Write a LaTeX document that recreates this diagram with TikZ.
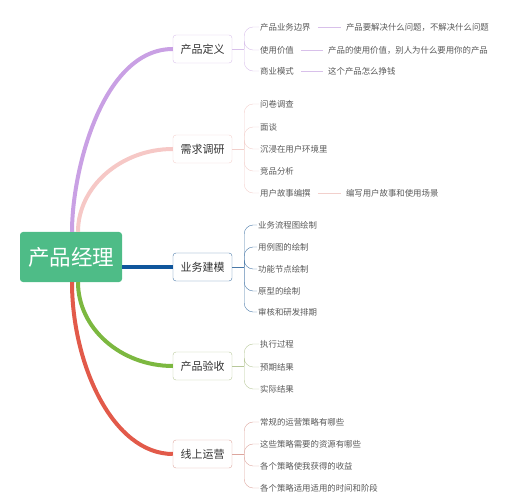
\documentclass[tikz,border=0pt]{standalone}
\usepackage{fontspec}
\setmainfont{Noto Sans CJK SC}
\usetikzlibrary{positioning}

\definecolor{rootgreen}{RGB}{78,188,135}
\definecolor{cpurple}{RGB}{201,160,228}
\definecolor{cpink}{RGB}{246,200,198}
\definecolor{cblue}{RGB}{16,86,156}
\definecolor{cgreen}{RGB}{124,184,64}
\definecolor{cred}{RGB}{226,90,74}
\definecolor{lpurple}{RGB}{216,192,234}
\definecolor{lpink}{RGB}{242,208,204}
\definecolor{lblue}{RGB}{74,121,168}
\definecolor{lgreen}{RGB}{184,200,154}
\definecolor{lred}{RGB}{221,166,158}
\definecolor{txtgray}{RGB}{88,88,88}

\begin{document}
\begin{tikzpicture}[x=1pt, y=-1pt,
  branch/.style={draw, rounded corners=3pt, minimum width=59pt, minimum height=28pt, inner sep=0pt, font=\fontsize{11}{11}\selectfont, text=black!80},
  leaf/.style={anchor=west, inner sep=1pt, font=\fontsize{8.4}{8.4}\selectfont, text=txtgray},
  curve/.style={line width=4pt},
  brace/.style={rounded corners=9pt}]

  \useasboundingbox (0,0) rectangle (512,500);

  % root
  \node[fill=rootgreen, rounded corners=3pt, minimum width=102pt, minimum height=50pt, inner sep=0pt, text=white, font=\fontsize{21.5}{21.5}\selectfont] (pm) at (71,257) {产品经理};

  % B1
  \node[branch, draw=lpurple] (def) at (202.5,49) {产品定义};
  \node[leaf] (def1) at (259,27) {产品业务边界};
  \node[leaf] (def2) at (259,50) {使用价值};
  \node[leaf] (def3) at (259,71) {商业模式};
  \node[leaf, right=33pt of def1] (def1d) {产品要解决什么问题，不解决什么问题};
  \node[leaf, right=32pt of def2] (def2d) {产品的使用价值，别人为什么要用你的产品};
  \node[leaf, right=32pt of def3] (def3d) {这个产品怎么挣钱};

  \draw[lpurple] (def.east) -- ++(12,0) coordinate (defb);
  \draw[lpurple, brace] (defb) |- (def1.west);
  \draw[lpurple, brace] (defb) |- (def2.west);
  \draw[lpurple, brace] (defb) |- (def3.west);
  \draw[lpurple, shorten <=6pt, shorten >=4pt] (def1) -- (def1d);
  \draw[lpurple, shorten <=6pt, shorten >=4pt] (def2) -- (def2d);
  \draw[lpurple, shorten <=6pt, shorten >=4pt] (def3) -- (def3d);

  % B2
  \node[branch, draw=lpink] (req) at (202.5,149) {需求调研};
  \node[leaf] (req1) at (259,104) {问卷调查};
  \node[leaf] (req2) at (259,127) {面谈};
  \node[leaf] (req3) at (259,149) {沉浸在用户环境里};
  \node[leaf] (req4) at (259,171) {竞品分析};
  \node[leaf] (req5) at (259,193) {用户故事编撰};
  \node[leaf, right=33pt of req5] (req5d) {编写用户故事和使用场景};

  \draw[lpink] (req.east) -- ++(12,0) coordinate (reqb);
  \draw[lpink, brace] (reqb) |- (req1.west);
  \draw[lpink, brace] (reqb) |- (req2.west);
  \draw[lpink, brace] (reqb) |- (req3.west);
  \draw[lpink, brace] (reqb) |- (req4.west);
  \draw[lpink, brace] (reqb) |- (req5.west);
  \draw[lpink, shorten <=6pt, shorten >=4pt] (req5) -- (req5d);

  % B3
  \node[branch, draw=lblue] (bm) at (202.5,267) {业务建模};
  \node[leaf] (bm1) at (257,225) {业务流程图绘制};
  \node[leaf] (bm2) at (257,247) {用例图的绘制};
  \node[leaf] (bm3) at (257,269) {功能节点绘制};
  \node[leaf] (bm4) at (257,291) {原型的绘制};
  \node[leaf] (bm5) at (257,312) {审核和研发排期};

  \draw[lblue] (bm.east) -- ++(12,0) coordinate (bmb);
  \draw[lblue, brace] (bmb) |- (bm1.west);
  \draw[lblue, brace] (bmb) |- (bm2.west);
  \draw[lblue, brace] (bmb) |- (bm3.west);
  \draw[lblue, brace] (bmb) |- (bm4.west);
  \draw[lblue, brace] (bmb) |- (bm5.west);

  % B4
  \node[branch, draw=lgreen] (acc) at (202.5,366) {产品验收};
  \node[leaf] (acc1) at (259,344) {执行过程};
  \node[leaf] (acc2) at (259,367) {预期结果};
  \node[leaf] (acc3) at (259,389) {实际结果};

  \draw[lgreen] (acc.east) -- ++(12,0) coordinate (accb);
  \draw[lgreen, brace] (accb) |- (acc1.west);
  \draw[lgreen, brace] (accb) |- (acc2.west);
  \draw[lgreen, brace] (accb) |- (acc3.west);

  % B5
  \node[branch, draw=lred] (ops) at (202.5,454) {线上运营};
  \node[leaf] (ops1) at (259,422) {常规的运营策略有哪些};
  \node[leaf] (ops2) at (259,444) {这些策略需要的资源有哪些};
  \node[leaf] (ops3) at (259,466) {各个策略使我获得的收益};
  \node[leaf] (ops4) at (259,488) {各个策略适用适用的时间和阶段};

  \draw[lred] (ops.east) -- ++(12,0) coordinate (opsb);
  \draw[lred, brace] (opsb) |- (ops1.west);
  \draw[lred, brace] (opsb) |- (ops2.west);
  \draw[lred, brace] (opsb) |- (ops3.west);
  \draw[lred, brace] (opsb) |- (ops4.west);

  % root to branches
  \draw[curve, cpurple] ([xshift=1pt]pm.north) .. controls +(0,-62) and +(-70,0) .. (def.west);
  \draw[curve, cpink] ([xshift=7pt]pm.north) .. controls +(0,-45) and +(-52,0) .. (req.west);
  \draw[curve, cblue] (pm.east |- bm.west) -- (bm.west);
  \draw[curve, cgreen] ([xshift=7pt]pm.south) .. controls +(0,46) and +(-52,0) .. (acc.west);
  \draw[curve, cred] ([xshift=1pt]pm.south) .. controls +(0,82) and +(-60,0) .. (ops.west);

\end{tikzpicture}
\end{document}
